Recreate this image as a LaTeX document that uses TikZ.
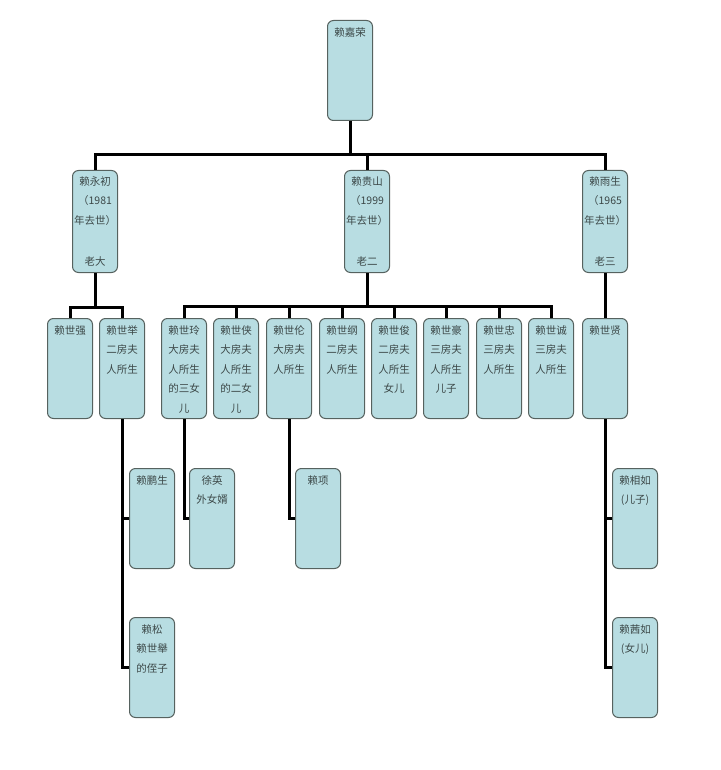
\documentclass[tikz,border=0pt]{standalone}
\usepackage{fontspec}
\newfontfamily\cjk{Noto Sans CJK SC}
\definecolor{boxfill}{HTML}{B8DDE2}
\definecolor{boxline}{HTML}{56625F}
\definecolor{inkgray}{HTML}{3C4848}
% one box of the tree: [height]{lines}
\newcommand{\member}[2][100pt]{\parbox[c][#1][t]{45pt}{\centering\vspace*{7pt}#2\par}}
\newcommand{\elder}[2]{\parbox[c][102pt][t]{45pt}{\centering\vspace*{6pt}#1\par\vfill #2\par\vspace*{6pt}}}

\tikzset{
  person/.style={draw=boxline, fill=boxfill, rounded corners=6pt, line width=1pt,
                 inner sep=0pt, anchor=north, text=inkgray,
                 font=\cjk\fontsize{10.5}{19.5}\selectfont},
  link/.style={line width=3pt}
}

\begin{document}
\begin{tikzpicture}[x=1pt, y=-1pt]
  \useasboundingbox (0,0) rectangle (720,770);

  % first generation
  \node[person] (jiarong) at (350,20) {\member{赖嘉荣}};

  % second generation
  \node[person] (yongchu) at (95,170) {\elder{赖永初\\（1981\\年去世）}{老大}};
  \node[person] (guishan) at (367,170) {\elder{赖贵山\\（1999\\年去世）}{老二}};
  \node[person] (yusheng) at (605,170) {\elder{赖雨生\\（1965\\年去世）}{老三}};

  % third generation
  \node[person] (shiqiang) at (70,318) {\member{赖世强}};
  \node[person] (shiju) at (122,318) {\member{赖世举\\二房夫\\人所生}};
  \node[person] (shiling) at (184,318) {\member{赖世玲\\大房夫\\人所生\\的三女\\儿}};
  \node[person] (shixia) at (236,318) {\member{赖世侠\\大房夫\\人所生\\的二女\\儿}};
  \node[person] (shilun) at (289,318) {\member{赖世伦\\大房夫\\人所生}};
  \node[person] (shigang) at (342,318) {\member{赖世纲\\二房夫\\人所生}};
  \node[person] (shijun) at (394,318) {\member{赖世俊\\二房夫\\人所生\\女儿}};
  \node[person] (shihao) at (446,318) {\member{赖世豪\\三房夫\\人所生\\儿子}};
  \node[person] (shizhong) at (499,318) {\member{赖世忠\\三房夫\\人所生}};
  \node[person] (shicheng) at (551,318) {\member{赖世诚\\三房夫\\人所生}};
  \node[person] (shixian) at (605,318) {\member{赖世贤}};

  % fourth generation
  \node[person] (pengsheng) at (152,468) {\member{赖鹏生}};
  \node[person] (song) at (152,617) {\member{赖松\\赖世舉\\的侄子}};
  \node[person] (xuying) at (212,468) {\member{徐英\\外女婿}};
  \node[person] (xiang) at (318,468) {\member{赖项}};
  \node[person] (xiangru) at (635,468) {\member{赖相如\\(儿子)}};
  \node[person] (qianru) at (635,617) {\member{赖茜如\\(女儿)}};

  % connectors
  \coordinate (top) at (350,155);
  \draw[link] (jiarong.south) -- (top);
  \draw[link] (yongchu.north) |- (top) -| (yusheng.north);
  \draw[link] (guishan.north) -- (guishan.north |- top);

  \draw[link] (yongchu.south) -- ++(0,34) coordinate (b1);
  \draw[link] (shiqiang.north) |- (b1) -| (shiju.north);

  \draw[link] (guishan.south) -- ++(0,33) coordinate (b2);
  \draw[link] (shiling.north) |- (b2) -| (shicheng.north);
  \foreach \n in {shixia,shilun,shigang,shijun,shihao,shizhong}
    \draw[link] (\n.north) -- (\n.north |- b2);

  \draw[link] (yusheng.south) -- (shixian.north);

  \draw[link] (shiju.south) |- (song.west);
  \draw[link] (shiju.south |- pengsheng.west) -- (pengsheng.west);
  \draw[link] (shiling.south) |- (xuying.west);
  \draw[link] (shilun.south) |- (xiang.west);
  \draw[link] (shixian.south) |- (qianru.west);
  \draw[link] (shixian.south |- xiangru.west) -- (xiangru.west);
\end{tikzpicture}
\end{document}
